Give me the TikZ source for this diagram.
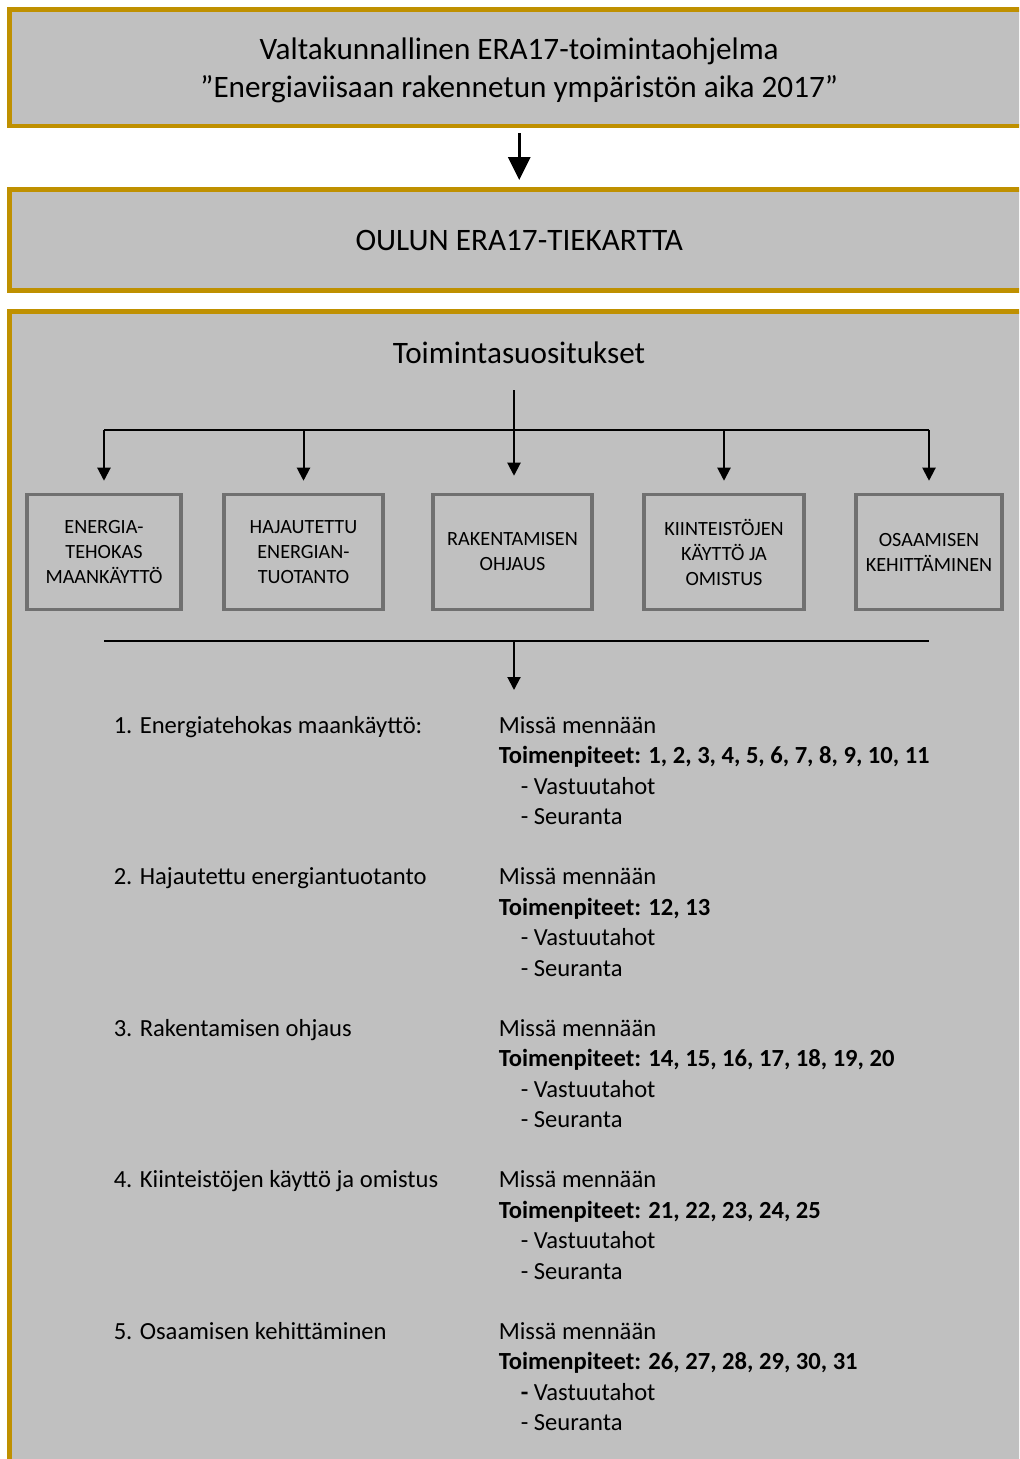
\documentclass[tikz,border=0pt]{standalone}
\usepackage{fontspec}
\setmainfont{Carlito}
\usetikzlibrary{positioning,arrows.meta}
\definecolor{kulta}{RGB}{191,144,0}
\definecolor{pohja}{RGB}{192,192,192}
\definecolor{reuna}{RGB}{112,112,112}
\tikzset
{
  bigbox/.style   = {rectangle, draw=kulta, fill=pohja, line width=2.25pt, minimum width=509.75pt, align=center, font=\fontsize{15.6}{19}\selectfont},
  smallbox/.style = {rectangle, draw=reuna, line width=1.75pt, minimum height=57.5pt, align=center, font=\fontsize{10.1}{12.5}\selectfont},
  rowlabel/.style = {anchor=base west, inner sep=0pt, font=\fontsize{12.3}{15.25}\selectfont},
  rowtext/.style  = {anchor=base west, inner sep=0pt, align=left, font=\fontsize{12.3}{15.25}\selectfont}
}

\begin{document}
\begin{tikzpicture}[x=0.5pt, y=-0.5pt, line width=0.75pt, >={Triangle[width=6.5pt,length=6.5pt]}]
  \useasboundingbox (0,0) rectangle (1019,1459);
  \clip (0,0) rectangle (1019,1459);
  \node [bigbox, minimum height=58.25pt, text depth=0pt] (ohjelma) at (519.25,67.75) {Valtakunnallinen ERA17-toimintaohjelma\\”Energiaviisaan rakennetun ympäristön aika 2017”};
  \node [bigbox, minimum height=50.5pt, below=29.5pt of ohjelma] (tiekartta) {OULUN ERA17-TIEKARTTA};
  \node [bigbox, minimum height=584.25pt, below=8.25pt of tiekartta] (suositukset) {};
  \node [font=\fontsize{15.6}{19}\selectfont] (otsikko) at (519,353) {Toimintasuositukset};

  \node [smallbox, minimum width=77pt] (maankaytto) at (104,552) {ENERGIA-\\TEHOKAS\\MAANKÄYTTÖ};
  \node [smallbox, minimum width=79.5pt] (tuotanto) at (303.5,552) {HAJAUTETTU\\ENERGIAN-\\TUOTANTO};
  \node [smallbox, minimum width=79.5pt] (ohjaus) at (512.5,552) {RAKENTAMISEN\\OHJAUS};
  \node [smallbox, minimum width=80pt] (omistus) at (724,552) {KIINTEISTÖJEN\\KÄYTTÖ JA\\OMISTUS};
  \node [smallbox, minimum width=73pt] (osaaminen) at (929,552) {OSAAMISEN\\KEHITTÄMINEN};

  \coordinate (haara) at (514,430);
  \coordinate (kokoa) at (514,641);
  \coordinate (lista) at (514,690);

  \draw [->, line width=1.5pt, >={Triangle[width=11pt,length=11.5pt]}, shorten <=2.4pt, shorten >=3.6pt] (ohjelma.south) -- (tiekartta.north);
  \draw [->, line width=1pt, shorten <=9.5pt, shorten >=8.5pt] (otsikko.south -| haara) -- (ohjaus.north -| haara);
  \draw (maankaytto.north |- haara) -- (osaaminen.north |- haara);
  \draw [->, line width=1pt, shorten >=6pt] (maankaytto.north |- haara) -- (maankaytto.north);
  \draw [->, line width=1pt, shorten >=6pt] (tuotanto.north |- haara) -- (tuotanto.north);
  \draw [->, line width=1pt, shorten >=6pt] (omistus.north |- haara) -- (omistus.north);
  \draw [->, line width=1pt, shorten >=6pt] (osaaminen.north |- haara) -- (osaaminen.north);
  \draw (maankaytto.south |- kokoa) -- (osaaminen.south |- kokoa);
  \draw [->, line width=1pt] (kokoa) -- (lista);

  \node [rowlabel] (rivi1) at (113,733) {1. Energiatehokas maankäyttö:};
  \node [rowtext] (toimet1) at (498,824.5) {Missä mennään\\\textbf{Toimenpiteet: 1, 2, 3, 4, 5, 6, 7, 8, 9, 10, 11}\\\hspace*{11pt}- Vastuutahot\\\hspace*{11pt}- Seuranta};
  \node [rowlabel] (rivi2) at (113,884.5) {2. Hajautettu energiantuotanto};
  \node [rowtext] (toimet2) at (498,976) {Missä mennään\\\textbf{Toimenpiteet: 12, 13}\\\hspace*{11pt}- Vastuutahot\\\hspace*{11pt}- Seuranta};
  \node [rowlabel] (rivi3) at (113,1036) {3. Rakentamisen ohjaus};
  \node [rowtext] (toimet3) at (498,1127.5) {Missä mennään\\\textbf{Toimenpiteet: 14, 15, 16, 17, 18, 19, 20}\\\hspace*{11pt}- Vastuutahot\\\hspace*{11pt}- Seuranta};
  \node [rowlabel] (rivi4) at (113,1187.5) {4. Kiinteistöjen käyttö ja omistus};
  \node [rowtext] (toimet4) at (498,1279) {Missä mennään\\\textbf{Toimenpiteet: 21, 22, 23, 24, 25}\\\hspace*{11pt}- Vastuutahot\\\hspace*{11pt}- Seuranta};
  \node [rowlabel] (rivi5) at (113,1339) {5. Osaamisen kehittäminen};
  \node [rowtext] (toimet5) at (498,1430.5) {Missä mennään\\\textbf{Toimenpiteet: 26, 27, 28, 29, 30, 31}\\\hspace*{11pt}\textbf{-} Vastuutahot\\\hspace*{11pt}- Seuranta};
\end{tikzpicture}
\end{document}
